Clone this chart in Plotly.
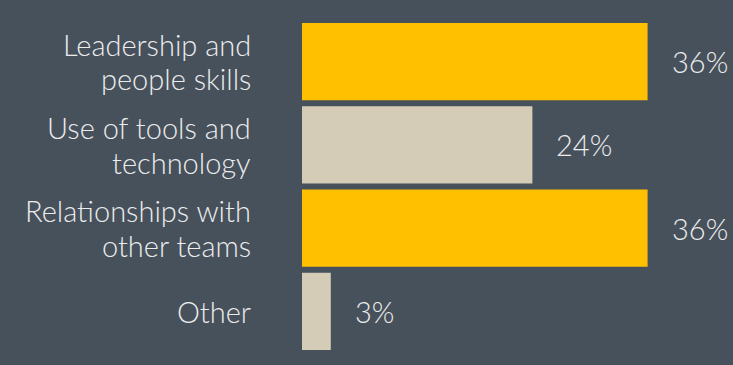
import plotly.graph_objects as go

# Survey answers, top to bottom
categories = ["Leadership and<br>people skills", "Use of tools and<br>technology",
              "Relationships with<br>other teams", "Other"]
values = [36, 24, 36, 3]
bar_colors = ["#FFC000", "#D4CCB6", "#FFC000", "#D4CCB6"]

BG = "#47515C"
TEXT = "#ECECEC"
FONT = "Lato"
SIZE = 29
LINE_GAP = 34.5  # px between wrapped label lines

fig = go.Figure()
fig.add_trace(go.Bar(
    y=categories,
    x=values,
    orientation="h",
    marker=dict(color=bar_colors, line=dict(width=0)),
    hoverinfo="skip",
))

# value labels to the right of each bar
for c, v in zip(categories, values):
    fig.add_annotation(x=v, y=c, xref="x", yref="y", text=f"{v}%",
                       showarrow=False, xanchor="left", xshift=22,
                       font=dict(family=FONT, size=SIZE, color=TEXT, weight=300))

# category labels, right-aligned left of the axis line, one annotation per line
for c in categories:
    lines = c.split("<br>")
    n = len(lines)
    for i, line in enumerate(lines):
        offset = ((n - 1) / 2 - i) * LINE_GAP
        fig.add_annotation(x=0, y=c, xref="paper", yref="y", text=line,
                           showarrow=False, xanchor="right", align="right",
                           xshift=-49, yshift=offset,
                           font=dict(family=FONT, size=SIZE, color=TEXT, weight=300))

# white vertical axis line
fig.add_shape(type="line", xref="x", yref="paper", x0=-0.21, x1=-0.21,
              y0=-0.05, y1=1.039, line=dict(color="#FFFFFF", width=2))

fig.update_layout(
    width=733, height=365,
    margin=dict(l=302, r=0, t=20, b=12),
    paper_bgcolor=BG, plot_bgcolor=BG,
    bargap=0.075,
    showlegend=False,
    xaxis=dict(range=[0, 431 / 9.6], visible=False, fixedrange=True),
    yaxis=dict(autorange="reversed", visible=False, fixedrange=True),
)

fig.write_html("out.html", config={"displayModeBar": False})
